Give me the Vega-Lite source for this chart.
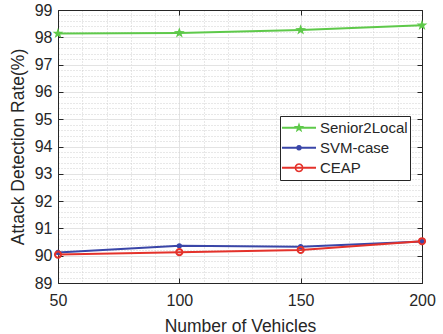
{
  "$schema": "https://vega.github.io/schema/vega-lite/v6.json",
  "width": 364,
  "height": 273,
  "autosize": "none",
  "padding": {"left": 58, "top": 10, "right": 21, "bottom": 51},
  "background": "white",
  "config": {
    "font": "Liberation Sans",
    "view": {"stroke": "#262626", "strokeWidth": 1},
    "axis": {
      "labelFont": "Liberation Sans",
      "titleFont": "Liberation Sans",
      "labelColor": "#262626",
      "titleColor": "#262626",
      "domainColor": "#262626",
      "tickColor": "#262626",
      "titleFontWeight": "normal",
      "labelFlush": false,
      "labelOverlap": false
    }
  },
  "data": {
    "values": [
      {"x": 50, "series": "Senior2Local", "value": 98.14},
      {"x": 100, "series": "Senior2Local", "value": 98.16},
      {"x": 150, "series": "Senior2Local", "value": 98.27},
      {"x": 200, "series": "Senior2Local", "value": 98.44},
      {"x": 50, "series": "SVM-case", "value": 90.12},
      {"x": 100, "series": "SVM-case", "value": 90.36},
      {"x": 150, "series": "SVM-case", "value": 90.33},
      {"x": 200, "series": "SVM-case", "value": 90.52},
      {"x": 50, "series": "CEAP", "value": 90.04},
      {"x": 100, "series": "CEAP", "value": 90.13},
      {"x": 150, "series": "CEAP", "value": 90.21},
      {"x": 200, "series": "CEAP", "value": 90.53}
    ]
  },
  "resolve": {"axis": {"x": "independent", "y": "independent"}},
  "layer": [
    {
      "mark": {"type": "point", "opacity": 0},
      "encoding": {
        "x": {"field": "x", "type": "quantitative", "scale": {"domain": [50, 200], "nice": false},
          "axis": {"orient": "bottom", "values": [60, 70, 80, 90, 110, 120, 130, 140, 160, 170, 180, 190],
            "grid": true, "gridColor": "#d0d0d0", "gridDash": [1, 2], "gridWidth": 1,
            "labels": false, "ticks": false, "domain": false, "title": null}},
        "y": {"field": "value", "type": "quantitative", "scale": {"domain": [89, 99], "nice": false, "zero": false},
          "axis": {"orient": "left", "values": [89.2, 89.4, 89.6, 89.8, 90.2, 90.4, 90.6, 90.8, 91.2, 91.4, 91.6, 91.8, 92.2, 92.4, 92.6, 92.8, 93.2, 93.4, 93.6, 93.8, 94.2, 94.4, 94.6, 94.8, 95.2, 95.4, 95.6, 95.8, 96.2, 96.4, 96.6, 96.8, 97.2, 97.4, 97.6, 97.8, 98.2, 98.4, 98.6, 98.8],
            "grid": true, "gridColor": "#d0d0d0", "gridDash": [1, 2], "gridWidth": 1,
            "labels": false, "ticks": false, "domain": false, "title": null}}
      }
    },
    {
      "mark": {"type": "point", "opacity": 0},
      "encoding": {
        "x": {"field": "x", "type": "quantitative",
          "axis": {"orient": "bottom", "values": [50, 100, 150, 200], "grid": true, "gridColor": "#e3e3e3", "gridWidth": 1,
            "tickSize": -5, "labelPadding": 14, "labelFontSize": 16, "title": "Number of Vehicles",
            "titleFontSize": 17.5, "titlePadding": 9}},
        "y": {"field": "value", "type": "quantitative",
          "axis": {"orient": "left", "values": [89, 90, 91, 92, 93, 94, 95, 96, 97, 98, 99], "grid": true, "gridColor": "#e3e3e3", "gridWidth": 1,
            "tickSize": -5, "labelPadding": 11, "labelFontSize": 16, "title": "Attack Detection Rate(%)",
            "titleFontSize": 17.5, "titlePadding": 7}}
      }
    },
    {
      "mark": {"type": "point", "opacity": 0},
      "encoding": {
        "x": {"field": "x", "type": "quantitative",
          "axis": {"orient": "top", "values": [50, 100, 150, 200], "grid": false, "tickSize": -5, "labels": false, "title": null}},
        "y": {"field": "value", "type": "quantitative",
          "axis": {"orient": "right", "values": [89, 90, 91, 92, 93, 94, 95, 96, 97, 98, 99], "grid": false, "tickSize": -5, "labels": false, "title": null}}
      }
    },
    {
      "transform": [{"filter": "datum.series === 'Senior2Local'"}],
      "mark": {"type": "line", "color": "#5ec94a", "strokeWidth": 2},
      "encoding": {
        "x": {"field": "x", "type": "quantitative", "axis": null},
        "y": {"field": "value", "type": "quantitative", "axis": null}
      }
    },
    {
      "transform": [{"filter": "datum.series === 'SVM-case'"}],
      "mark": {"type": "line", "color": "#3a46a8", "strokeWidth": 2},
      "encoding": {
        "x": {"field": "x", "type": "quantitative", "axis": null},
        "y": {"field": "value", "type": "quantitative", "axis": null}
      }
    },
    {
      "transform": [{"filter": "datum.series === 'CEAP'"}],
      "mark": {"type": "line", "color": "#e4322b", "strokeWidth": 2},
      "encoding": {
        "x": {"field": "x", "type": "quantitative", "axis": null},
        "y": {"field": "value", "type": "quantitative", "axis": null}
      }
    },
    {
      "transform": [{"filter": "datum.series === 'Senior2Local'"}],
      "mark": {"type": "point", "filled": true, "color": "#5ec94a", "opacity": 1, "size": 130,
        "shape": "M0,-1L0.235,-0.324L0.951,-0.309L0.38,0.124L0.588,0.809L0,0.4L-0.588,0.809L-0.38,0.124L-0.951,-0.309L-0.235,-0.324Z"},
      "encoding": {
        "x": {"field": "x", "type": "quantitative", "axis": null},
        "y": {"field": "value", "type": "quantitative", "axis": null}
      }
    },
    {
      "transform": [{"filter": "datum.series === 'SVM-case'"}],
      "mark": {"type": "point", "filled": true, "color": "#3a46a8", "opacity": 1, "size": 28, "shape": "circle"},
      "encoding": {
        "x": {"field": "x", "type": "quantitative", "axis": null},
        "y": {"field": "value", "type": "quantitative", "axis": null}
      }
    },
    {
      "transform": [{"filter": "datum.series === 'CEAP'"}],
      "mark": {"type": "point", "filled": false, "color": "#e4322b", "opacity": 1, "size": 38, "strokeWidth": 2, "shape": "circle"},
      "encoding": {
        "x": {"field": "x", "type": "quantitative", "axis": null},
        "y": {"field": "value", "type": "quantitative", "axis": null}
      }
    },
    {
      "mark": {"type": "point", "filled": true, "opacity": 0},
      "encoding": {
        "x": {"field": "x", "type": "quantitative", "axis": null},
        "y": {"field": "value", "type": "quantitative", "axis": null},
        "color": {"field": "series", "type": "nominal",
          "scale": {"domain": ["Senior2Local", "SVM-case", "CEAP"], "range": ["#5ec94a", "#3a46a8", "#e4322b"]},
          "legend": {"orient": "none", "legendX": 222, "legendY": 106, "title": null, "fillColor": "white", "strokeColor": "#262626",
            "padding": 2, "rowPadding": 0, "clipHeight": 19.5, "symbolSize": 1156, "symbolStrokeWidth": 0, "symbolOpacity": 1,
            "labelFont": "Liberation Sans", "labelFontSize": 15, "labelColor": "#262626", "labelOffset": 4, "labelLimit": 200,
            "encode": {"symbols": {"update": {"opacity": {"value": 1}, "size": {"value": 1156}}}}}},
        "shape": {"field": "series", "type": "nominal",
          "scale": {"domain": ["Senior2Local", "SVM-case", "CEAP"], "range": [
            "M-1,-0.055H1V0.055H-1ZM0,-0.32L0.075,-0.104L0.304,-0.099L0.122,0.04L0.188,0.259L0,0.128L-0.188,0.259L-0.122,0.04L-0.304,-0.099L-0.075,-0.104Z",
            "M-1,-0.055H1V0.055H-1ZM0.165,0L0.143,0.083L0.083,0.143L0,0.165L-0.083,0.143L-0.143,0.083L-0.165,0L-0.143,-0.083L-0.083,-0.143L0,-0.165L0.083,-0.143L0.143,-0.083Z",
            "M-1,-0.055H1V0.055H-1ZM0.265,0L0.229,0.133L0.133,0.229L0,0.265L-0.133,0.229L-0.229,0.133L-0.265,0L-0.229,-0.133L-0.133,-0.229L0,-0.265L0.133,-0.229L0.229,-0.133ZM0.17,0L0.147,-0.085L0.085,-0.147L0,-0.17L-0.085,-0.147L-0.147,-0.085L-0.17,0L-0.147,0.085L-0.085,0.147L0,0.17L0.085,0.147L0.147,0.085Z"
          ]},
          "legend": {"orient": "none", "legendX": 222, "legendY": 106, "title": null, "fillColor": "white", "strokeColor": "#262626",
            "padding": 2, "rowPadding": 0, "clipHeight": 19.5, "symbolSize": 1156, "symbolStrokeWidth": 0, "symbolOpacity": 1,
            "labelFont": "Liberation Sans", "labelFontSize": 15, "labelColor": "#262626", "labelOffset": 4, "labelLimit": 200,
            "encode": {"symbols": {"update": {"opacity": {"value": 1}, "size": {"value": 1156}}}}}}
      }
    }
  ]
}
